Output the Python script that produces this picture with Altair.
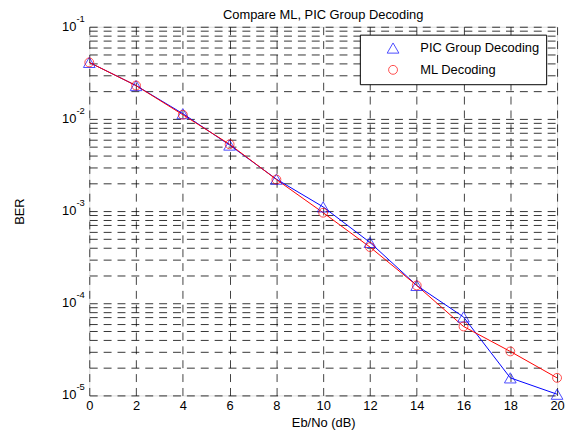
import altair as alt
import pandas as pd

ebno = [0, 2, 4, 6, 8, 10, 12, 14, 16, 18, 20]
ber_pic = [0.041, 0.023, 0.0114, 0.0052, 0.00222, 0.00111, 0.000457, 0.000156, 7.1e-5, 1.55e-5, 1.03e-5]
ber_ml = [0.041, 0.023, 0.0111, 0.0053, 0.0022, 0.00096, 0.000407, 0.000156, 5.6e-5, 3.0e-5, 1.55e-5]
series_names = ["PIC Group Decoding", "ML Decoding"]
series_colors = ["#0000ff", "#ff0000"]
series_shapes = ["triangle-up", "circle"]
series_sizes = [140, 80]
title_text = "Compare ML, PIC Group Decoding"

x_ticks = [0, 2, 4, 6, 8, 10, 12, 14, 16, 18, 20]
decade_vals = [1e-1, 1e-2, 1e-3, 1e-4, 1e-5]
decade_exps = ["-1", "-2", "-3", "-4", "-5"]
minor_mult = [1, 2, 3, 4, 5, 6, 7, 8, 9]
y_grid = [d * m for d in decade_vals[1:] for m in minor_mult] + [decade_vals[0]]

rows = []
for name, vals in zip(series_names, [ber_pic, ber_ml]):
    for x, y in zip(ebno, vals):
        rows.append({"x": x, "ber": y, "series": name})
df = pd.DataFrame(rows)
dec_df = pd.DataFrame({"ber": decade_vals, "exp": decade_exps, "base": ["10"] * len(decade_vals)})
title_df = pd.DataFrame({"t": [title_text]})

FONT = "Liberation Sans"
FS = 13

xenc = alt.X(
    "x:Q",
    scale=alt.Scale(domain=[0, 20], nice=False, zero=False),
    axis=alt.Axis(
        values=x_ticks, title="Eb/No (dB)", ticks=False, domain=False,
        grid=True, gridDash=[8, 6], gridColor="#000", gridOpacity=0.75,
        labelPadding=4, labelFontSize=FS, labelFont=FONT, labelColor="#000",
        titleFontSize=FS, titleFont=FONT, titleFontWeight="normal", titleColor="#000",
        titleY=31, titleBaseline="alphabetic", labelFlush=False,
    ),
)

yscale = alt.Scale(type="log", domain=[1e-5, 1e-1], nice=False)
yenc = alt.Y(
    "ber:Q",
    scale=yscale,
    axis=alt.Axis(
        values=y_grid, labels=False, title="BER", ticks=False, domain=False,
        grid=True, gridDash=[8, 6], gridColor="#000", gridOpacity=0.8,
        titleFontSize=FS, titleFont=FONT, titleFontWeight="normal", titleColor="#000",
        titleX=-70, titleY=186, titleAngle=270, titleAlign="center", titleBaseline="middle",
    ),
)

line_layers = []
for name, col in zip(series_names, series_colors):
    line_layers.append(
        alt.Chart(df).transform_filter(alt.datum.series == name)
        .mark_line(strokeWidth=1, color=col)
        .encode(x=xenc, y=yenc, order=alt.Order("x:Q"))
    )

points = alt.Chart(df).mark_point(filled=False, strokeWidth=1).encode(
    x=xenc,
    y=yenc,
    color=alt.Color(
        "series:N",
        scale=alt.Scale(domain=series_names, range=series_colors),
        legend=alt.Legend(
            title=None, orient="none", legendX=273, legendY=8,
            strokeColor="#000", fillColor="#fff", padding=7,
            symbolOffset=20, labelOffset=21, rowPadding=8,
            labelFontSize=FS, labelFont=FONT, labelColor="#000",
            symbolStrokeWidth=1,
        ),
    ),
    shape=alt.Shape("series:N", scale=alt.Scale(domain=series_names, range=series_shapes)),
    size=alt.Size("series:N", scale=alt.Scale(domain=series_names, range=series_sizes)),
)

base_lbl = alt.Chart(dec_df).mark_text(
    align="right", baseline="middle", fontSize=FS, font=FONT, color="#000"
).encode(x=alt.value(-13), y=alt.Y("ber:Q", scale=yscale), text="base:N")

exp_lbl = alt.Chart(dec_df).mark_text(
    align="left", baseline="middle", fontSize=9.5, font=FONT, color="#000", dy=-8
).encode(x=alt.value(-13), y=alt.Y("ber:Q", scale=yscale), text="exp:N")

title_lbl = alt.Chart(title_df).mark_text(
    align="center", baseline="alphabetic", fontSize=FS, font=FONT, color="#000"
).encode(x=alt.value(236), y=alt.value(-8), text="t:N")

chart = (
    alt.layer(*line_layers, points, base_lbl, exp_lbl, title_lbl)
    .properties(
        width=472,
        height=372,
        autosize=alt.AutoSizeParams(type="none"),
        padding={"left": 82, "top": 17, "right": 8, "bottom": 33},
    )
    .configure_view(stroke="#000", strokeWidth=1)
    .configure(background="#fff")
)

chart.save("out.html", embed_options={"renderer": "svg", "actions": False})
